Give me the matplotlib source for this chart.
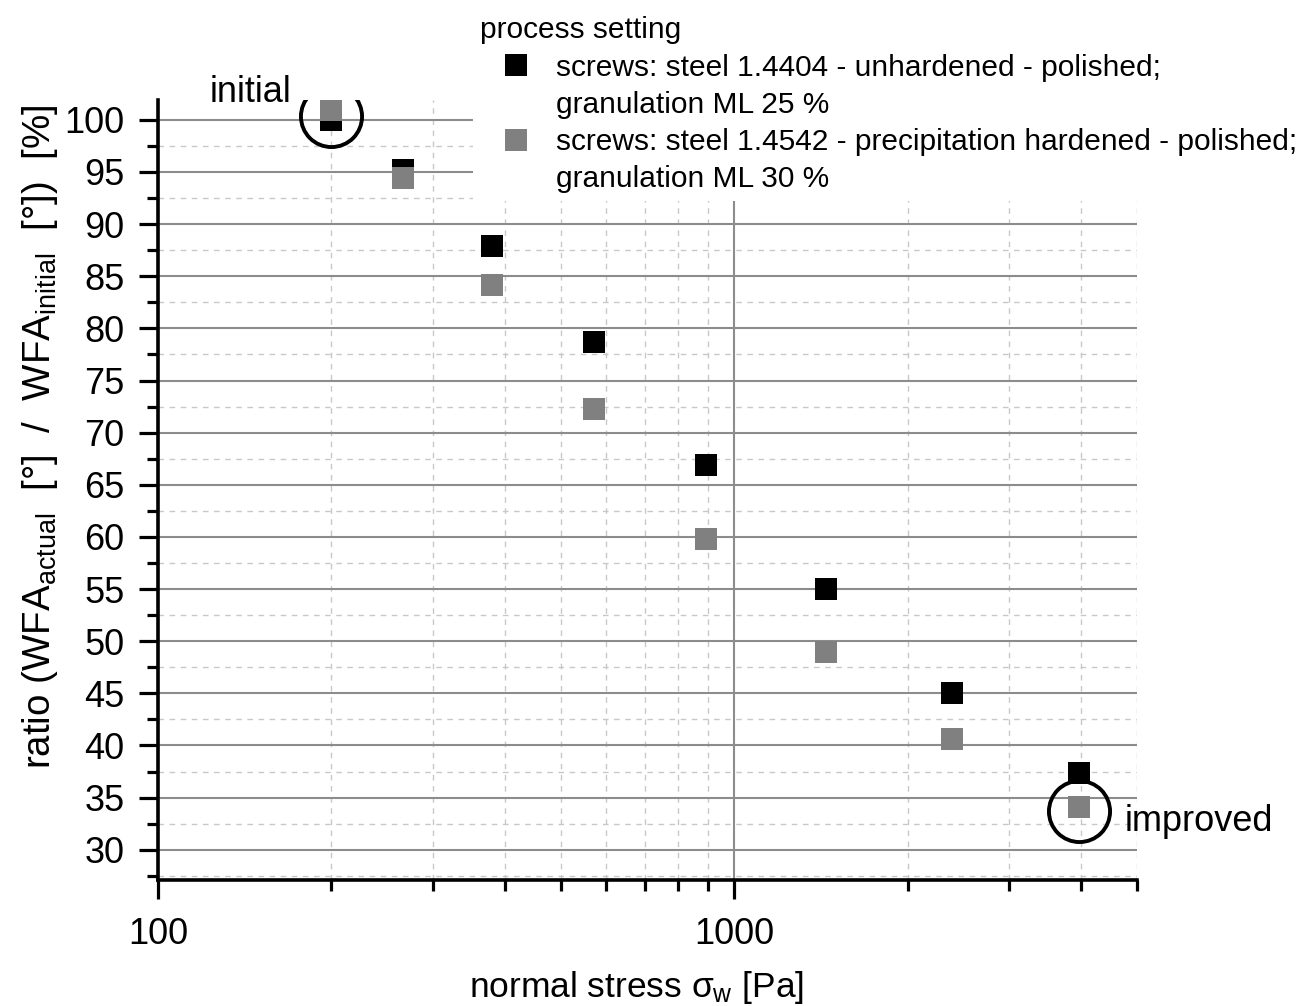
import numpy as np
import matplotlib
matplotlib.use("Agg")
import matplotlib.pyplot as plt
from matplotlib.lines import Line2D
from matplotlib.ticker import LogLocator, FixedLocator, FixedFormatter, NullFormatter

plt.rcParams['font.family'] = ['Liberation Sans', 'DejaVu Sans']
plt.rcParams['mathtext.fontset'] = 'custom'
plt.rcParams['mathtext.rm'] = 'Liberation Sans'
plt.rcParams['mathtext.it'] = 'Liberation Sans'
plt.rcParams['mathtext.sf'] = 'Liberation Sans'

# normal stress [Pa]
stress = [200, 266, 380, 570, 894, 1445, 2390, 3960]
# ratio WFA actual / initial [%]
ratio_1 = [100.0, 95.2, 87.9, 78.7, 66.9, 55.0, 45.0, 37.4]
ratio_2 = [100.9, 94.4, 84.2, 72.3, 59.8, 49.0, 40.6, 34.1]
labels_1 = ["screws: steel 1.4404 - unhardened - polished;", "granulation ML 25 %"]
labels_2 = ["screws: steel 1.4542 - precipitation hardened - polished;", "granulation ML 30 %"]
colors = ["#000000", "#808080"]

# marked points
circ_x = [200, 3960]
circ_y = [100.4, 33.75]
circ_txt = ["initial", "improved"]

fig = plt.figure(figsize=(13.11, 10.06), dpi=100)
ax = fig.add_axes([158/1311, 1-880/1006, (1137-158)/1311, 780/1006])

ax.set_xscale('log')
ax.set_xlim(100, 5000)
ax.set_ylim(27.1, 101.9)

h1, = ax.plot(stress, ratio_1, 's', ms=16.5, color=colors[0], mew=0, zorder=3)
h2, = ax.plot(stress, ratio_2, 's', ms=16.5, color=colors[1], mew=0, zorder=3)
ax.plot(circ_x, circ_y, 'o', ms=44, mfc='none', mec='black', mew=2.8, zorder=4)

ax.annotate(circ_txt[0], (circ_x[0], circ_y[0]), xytext=(-29, 17), textcoords='offset points',
            fontsize=26, ha='right', va='center')
ax.annotate(circ_txt[1], (circ_x[1], circ_y[1]), xytext=(33, -8), textcoords='offset points',
            fontsize=26, ha='left', va='center')

ax.xaxis.set_major_locator(FixedLocator([100, 1000]))
ax.xaxis.set_major_formatter(FixedFormatter(["100", "1000"]))
ax.xaxis.set_minor_locator(LogLocator(base=10, subs=np.arange(2, 10)))
ax.xaxis.set_minor_formatter(NullFormatter())
ax.yaxis.set_major_locator(FixedLocator(np.arange(30, 101, 5)))
ax.yaxis.set_minor_locator(FixedLocator(np.arange(27.5, 101, 5)))

for s in ['top', 'right']:
    ax.spines[s].set_visible(False)
for s in ['left', 'bottom']:
    ax.spines[s].set_linewidth(2.6)

ax.tick_params(which='major', direction='out', length=14, width=2.3, labelsize=26, pad=10)
ax.tick_params(which='minor', direction='out', length=8, width=2.3)
ax.tick_params(axis='x', which='major', pad=13)

ax.grid(which='major', color='#8c8c8c', lw=1.5, ls='-')
ax.grid(which='minor', color='#c8c8c8', lw=1.0, ls=(0, (4, 4)))
ax.set_axisbelow(True)

blank = Line2D([], [], ls='none')
leg = ax.legend([h1, blank, h2, blank], labels_1 + labels_2,
                title="process setting", loc='upper left',
                bbox_to_anchor=(473/1311, 1 - 9/1006), bbox_transform=fig.transFigure,
                fontsize=21.5, title_fontsize=21.5, frameon=True, facecolor='white',
                edgecolor='none', framealpha=1, fancybox=False, markerscale=1.0,
                handletextpad=0.13, borderpad=0.25, borderaxespad=0, labelspacing=0.31,
                handlelength=2.41)
leg._legend_box.align = "left"
leg.get_frame().set_clip_on(False)

fig.text(40/1311, 1-437/1006,
         r"ratio (WFA$_{\mathrm{actual}}$  [°]  /  WFA$_{\mathrm{initial}}$  [°])  [%]",
         rotation=90, ha='center', va='center', fontsize=27.7)
fig.text(636/1311, 1-988/1006, r"normal stress $\sigma_{\mathrm{w}}$ [Pa]",
         ha='center', va='center', fontsize=25.5)

fig.savefig("out.png", dpi=100)
